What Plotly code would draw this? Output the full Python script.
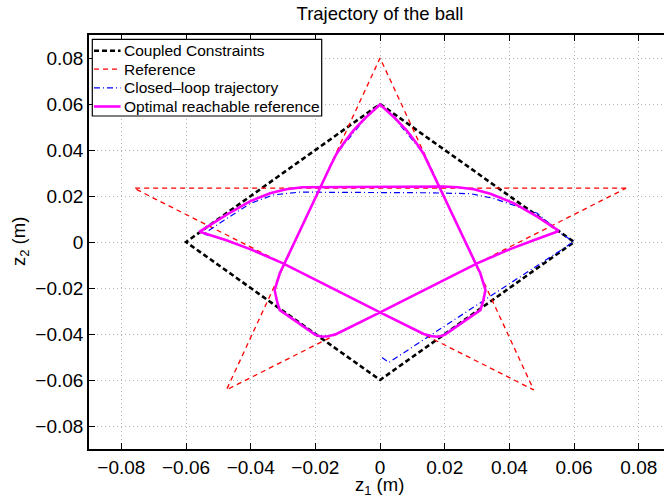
import plotly.graph_objects as go

# Coupled constraint region |z1| + |z2| <= 0.06 (closed diamond)
constraint_z1 = [0.0, 0.06, 0.0, -0.06, 0.0]
constraint_z2 = [0.06, 0.0, -0.06, 0.0, 0.06]

# Five-pointed star reference
reference_z1 = [0.0761, -0.0761, 0.0475, 0.0, -0.0475, 0.0761]
reference_z2 = [0.0234, 0.0234, -0.0643, 0.08, -0.0643, 0.0234]

# Closed-loop ball trajectory
closed_loop_z1 = [0.0006, 0.0027, 0.0599, 0.0558, 0.0486, 0.0413, 0.0350, 0.0280,
                  0.0150, -0.0150, -0.0247, -0.0329, -0.0401, -0.0473, -0.0546,
                  -0.0475, -0.0400, -0.0300, 0.0, 0.0135, 0.0166, 0.0192, 0.0310,
                  0.0320, 0.0326, 0.0310, 0.0174, 0.0145, 0.0125, 0.0083, 0.0042,
                  0.0, -0.0042, -0.0083, -0.0125, -0.0145, -0.0174, -0.0310,
                  -0.0326, -0.0320, -0.0310, -0.0192, -0.0166, -0.0135, 0.0,
                  0.0300, 0.0400, 0.0475, 0.0553]
closed_loop_z2 = [-0.0502, -0.0524, 0.0001, 0.0038, 0.0125, 0.0161, 0.0190, 0.0210,
                  0.0214, 0.0216, 0.0217, 0.0205, 0.0168, 0.0103, 0.0035,
                  0.0008, -0.0032, -0.0093, -0.0306, -0.0400, -0.0410, -0.0406,
                  -0.0296, -0.0253, -0.0209, -0.0136, 0.0270, 0.0357, 0.0401,
                  0.0473, 0.0543, 0.0598, 0.0543, 0.0473, 0.0401, 0.0357, 0.0270,
                  -0.0136, -0.0209, -0.0253, -0.0296, -0.0406, -0.0410, -0.0400,
                  -0.0306, -0.0093, -0.0032, 0.0008, 0.0048]

# Optimal reachable reference (closed loop)
optimal_z1 = [0.0553, 0.0486, 0.0413, 0.0341, 0.0290, 0.0240, 0.0195, -0.0195,
              -0.0240, -0.0290, -0.0340, -0.0401, -0.0473, -0.0558, -0.0475,
              -0.0400, -0.0300, 0.0, 0.0135, 0.0160, 0.0180, 0.0200, 0.0310,
              0.0318, 0.0326, 0.0310, 0.0174, 0.0152, 0.0134, 0.0110, 0.0082,
              0.0045, 0.0, -0.0045, -0.0082, -0.0110, -0.0134, -0.0152, -0.0174,
              -0.0310, -0.0326, -0.0318, -0.0310, -0.0200, -0.0180, -0.0160,
              -0.0135, 0.0, 0.0300, 0.0400, 0.0475, 0.0553]
optimal_z2 = [0.0048, 0.0110, 0.0169, 0.0210, 0.0229, 0.0238, 0.0241, 0.0241,
              0.0238, 0.0229, 0.0212, 0.0178, 0.0120, 0.0045, 0.0008,
              -0.0032, -0.0093, -0.0306, -0.0400, -0.0410, -0.0412, -0.0404, -0.0296,
              -0.0262, -0.0209, -0.0136, 0.0270, 0.0335, 0.0385, 0.0435, 0.0485,
              0.0540, 0.0598, 0.0540, 0.0485, 0.0435, 0.0385, 0.0335, 0.0270,
              -0.0136, -0.0209, -0.0262, -0.0296, -0.0404, -0.0412, -0.0410,
              -0.0400, -0.0306, -0.0093, -0.0032, 0.0008, 0.0048]

series_names = ["Coupled Constraints", "Reference",
                "Closed\u2013loop trajectory", "Optimal reachable reference"]
series_colors = ["black", "#ff0000", "#0000ff", "#ff00ff"]
series_widths = [2.6, 1.3, 1.2, 2.6]
series_dashes = ["5px,3px", "5px,4px", "6px,3px,1px,3px", "solid"]

FONT = "Liberation Sans, Arial, Helvetica, sans-serif"

# plot area in pixels (figure 664 x 497)
L, R, T, B = 89, 664, 35, 449


def paper_x(px):
    return (px - L) / (R - L)


def paper_y(py):
    return (B - py) / (B - T)


fig = go.Figure()
data = [(constraint_z1, constraint_z2), (reference_z1, reference_z2),
        (closed_loop_z1, closed_loop_z2), (optimal_z1, optimal_z2)]
for (xs, ys), name, color, width, dash in zip(data, series_names, series_colors,
                                              series_widths, series_dashes):
    fig.add_trace(go.Scatter(x=xs, y=ys, mode="lines", name=name, showlegend=False,
                             line=dict(color=color, width=width, dash=dash)))

axis_style = dict(
    dtick=0.02, tick0=0, ticks="inside", ticklen=6, tickwidth=1.3,
    tickcolor="black", showline=True, linewidth=1.6, linecolor="black",
    showgrid=True, gridcolor="#b4b4b4", gridwidth=1, griddash="1px,3px",
    zeroline=False, tickfont=dict(family=FONT, size=19, color="black"),
)
fig.update_xaxes(range=[-0.09, 0.0878], mirror="ticks", **axis_style)
fig.update_yaxes(range=[-0.09, 0.09], mirror=False, **axis_style)

# legend box drawn in the upper-left corner of the axes
shapes = [dict(type="rect", xref="paper", yref="paper", layer="above",
               x0=paper_x(92.3), x1=paper_x(321.7), y0=paper_y(116), y1=paper_y(39.3),
               line=dict(color="black", width=1.2), fillcolor="white")]
annotations = []
row_y = [50.7, 69.2, 87.8, 106.5]
for name, color, width, dash, ry in zip(series_names, series_colors, series_widths,
                                        series_dashes, row_y):
    shapes.append(dict(type="line", xref="paper", yref="paper", layer="above",
                       x0=paper_x(94), x1=paper_x(120.5),
                       y0=paper_y(ry), y1=paper_y(ry),
                       line=dict(color=color, width=width, dash=dash)))
    annotations.append(dict(text=name, xref="paper", yref="paper",
                            x=paper_x(121.5), y=paper_y(ry), xanchor="left",
                            yanchor="middle", showarrow=False,
                            font=dict(family=FONT, size=15.5, color="black")))

annotations += [
    dict(text="z<sub>1</sub> (m)", xref="paper", yref="paper",
         x=paper_x(379), y=paper_y(486), xanchor="center", yanchor="middle",
         showarrow=False, font=dict(family=FONT, size=18.5, color="black")),
    dict(text="z<sub>2</sub> (m)", xref="paper", yref="paper",
         x=paper_x(20), y=paper_y(242), xanchor="center", yanchor="middle",
         textangle=-90, showarrow=False,
         font=dict(family=FONT, size=18.5, color="black")),
]

fig.update_layout(
    width=664, height=497,
    margin=dict(l=L, r=664 - R, t=T, b=497 - B),
    paper_bgcolor="white", plot_bgcolor="white",
    font=dict(family=FONT, size=18, color="black"),
    title=dict(text="Trajectory of the ball", xref="container", yref="container",
               x=380 / 664, y=1 - 14 / 497, xanchor="center", yanchor="middle",
               font=dict(family=FONT, size=18.5, color="black")),
    showlegend=False,
    shapes=shapes,
    annotations=annotations,
)

fig.write_html("out.html")
